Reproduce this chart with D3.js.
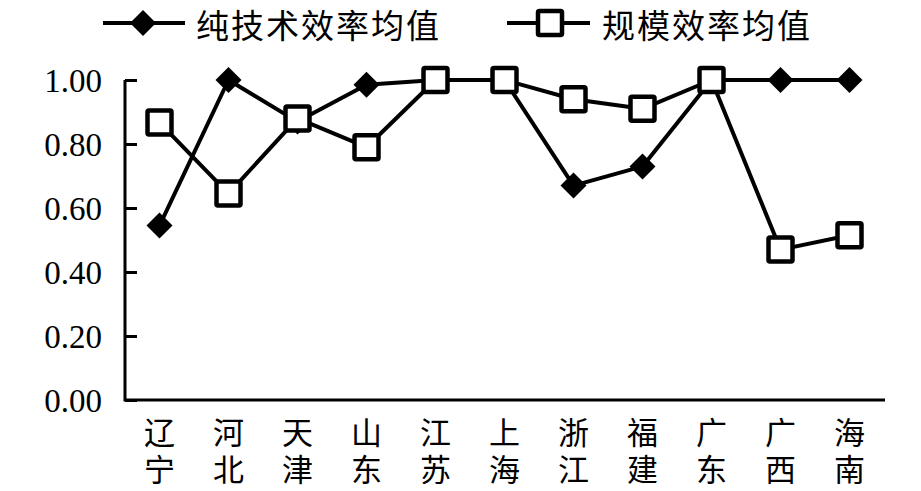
<!DOCTYPE html>
<html><head><meta charset="utf-8">
<script src="https://cdn.jsdelivr.net/npm/d3@7"></script>
<style>
html,body{margin:0;padding:0;background:#fff;}
svg{display:block;}
</style></head>
<body>
<svg id="chart" width="921" height="491"></svg>
<script>
const categories = ["辽宁","河北","天津","山东","江苏","上海","浙江","福建","广东","广西","海南"];
const pureTech = [0.545, 1.00, 0.87, 0.985, 1.00, 1.00, 0.67, 0.73, 1.00, 1.00, 1.00];
const scaleEff = [0.867, 0.645, 0.88, 0.79, 1.00, 1.00, 0.94, 0.91, 1.00, 0.47, 0.515];
const yTicks = [0, 0.2, 0.4, 0.6, 0.8, 1.0];
const seriesNames = ["纯技术效率均值", "规模效率均值"];

const SERIF = "'Liberation Serif'";
const CJK = "'Noto Sans CJK SC'";

const svg = d3.select("#chart");

const x = d3.scaleBand().domain(categories).range([125, 884]);
const y = d3.scaleLinear().domain([0, 1]).range([400, 80]);

// Y axis
const yAxis = d3.axisLeft(y).tickValues(yTicks).tickFormat(d3.format(".2f")).tickSizeInner(-12).tickSizeOuter(0).tickPadding(23);
const gy = svg.append("g").attr("transform", "translate(125,0)").call(yAxis)
  .attr("font-family", null).attr("font-size", null);
gy.select(".domain").attr("stroke", "#000").attr("stroke-width", 3).attr("d", "M0," + y(1) + "V" + (y(0)+1.5));
gy.selectAll(".tick line").attr("stroke", "#000").attr("stroke-width", 3);
gy.selectAll(".tick text")
  .style("font-family", SERIF).style("font-size", "33px")
  .attr("fill", "#000").attr("dy", "0.34em");

// X axis (line only, vertical category labels)
const xAxis = d3.axisBottom(x).tickSize(0).tickSizeOuter(0).tickFormat("");
const gx = svg.append("g").attr("transform", `translate(0,${y(0)})`).call(xAxis);
gx.select(".domain").attr("stroke", "#000").attr("stroke-width", 3).attr("d", "M125,0H885");
gx.selectAll(".tick text").remove();
gx.selectAll(".tick").append("text")
  .attr("x", 0).attr("y", 54)
  .style("writing-mode", "vertical-rl")
  .style("font-family", CJK).style("font-size", "31px").style("letter-spacing", "6px")
  .attr("fill", "#000")
  .text(d => d);

const cx = d => x(d) + x.bandwidth()/2;
const line = d3.line().x((d, i) => cx(categories[i])).y(d => y(d));

// Series lines
svg.append("path").datum(pureTech).attr("d", line).attr("fill", "none").attr("stroke", "#000").attr("stroke-width", 4).attr("stroke-linejoin", "round");
svg.append("path").datum(scaleEff).attr("d", line).attr("fill", "none").attr("stroke", "#000").attr("stroke-width", 4).attr("stroke-linejoin", "round");

function drawDiamond(g, px, py) {
  g.append("path").attr("d", "M0,-13L13,0L0,13L-13,0Z").attr("transform", `translate(${px},${py})`).attr("fill", "#000");
}
function drawSquare(g, px, py) {
  g.append("rect").attr("x", px - 12).attr("y", py - 12).attr("width", 24).attr("height", 24).attr("rx", 1.5)
    .attr("fill", "#fff").attr("stroke", "#000").attr("stroke-width", 4.5);
}

const marks = svg.append("g");
pureTech.forEach((v, i) => drawDiamond(marks, cx(categories[i]), y(v)));
scaleEff.forEach((v, i) => drawSquare(marks, cx(categories[i]), y(v)));

// Legend
const lg = svg.append("g");
lg.append("line").attr("x1", 103).attr("x2", 185).attr("y1", 23).attr("y2", 23).attr("stroke", "#000").attr("stroke-width", 4);
drawDiamond(lg, 143, 23);
lg.append("text").attr("x", 196).attr("y", 38).style("font-family", CJK).style("font-size", "33px").attr("letter-spacing", 2).attr("fill", "#000").text(seriesNames[0]);
lg.append("line").attr("x1", 507).attr("x2", 590).attr("y1", 23).attr("y2", 23).attr("stroke", "#000").attr("stroke-width", 4);
drawSquare(lg, 550, 23);
lg.append("text").attr("x", 602).attr("y", 38).style("font-family", CJK).style("font-size", "33px").attr("letter-spacing", 2).attr("fill", "#000").text(seriesNames[1]);
</script>
</body></html>
